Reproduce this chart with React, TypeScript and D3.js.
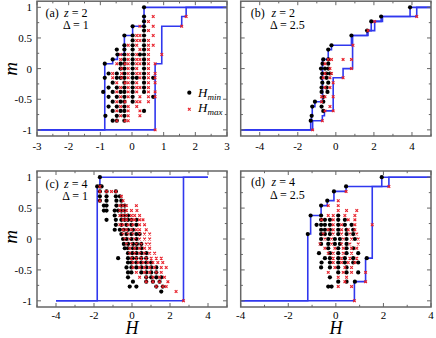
import React from "react";
import * as d3 from "d3";

type Row = [number, number[]];
type Pt = [number, number];

// ---------- Panel (a): z = 2, Delta = 1 ----------
const aMinRows: Row[] = [
  [1, [0.38]],
  [0.85, [0.38]],
  [0.77, [0.38]],
  [0.69, [0.02, 0.38]],
  [0.62, [0.38]],
  [0.54, [-0.24, 0.02, 0.38]],
  [0.46, [0.02, 0.38]],
  [0.38, [-0.24, 0.02, 0.38]],
  [0.31, [-0.48, -0.24, 0.02, 0.38]],
  [0.23, [-0.46, -0.24, 0.02, 0.25, 0.38]],
  [0.15, [-0.61, -0.24, 0.02, 0.38]],
  [0.08, [-0.86, -0.36, -0.24, 0.02, 0.38]],
  [0, [-0.36, -0.24, 0.02, 0.38]],
  [-0.08, [-0.74, -0.48, -0.24, 0.02, 0.38]],
  [-0.15, [-0.86, -0.48, -0.36, -0.24, 0.02, 0.15, 0.38, 0.67]],
  [-0.23, [-0.61, -0.24, 0.02, 0.38]],
  [-0.31, [-0.74, -0.48, -0.24, 0.02, 0.38]],
  [-0.38, [-0.91, -0.61, -0.36, -0.24, 0.02, 0.38]],
  [-0.46, [-0.74, -0.48, -0.24, 0.02, 0.67]],
  [-0.54, [-0.61, -0.36, -0.24, 0.02]],
  [-0.62, [-0.74, -0.48, -0.24]],
  [-0.69, [-0.61, -0.36, -0.24, 0.38]],
  [-0.77, [-0.84, -0.48, -0.24]],
  [-0.85, [-0.61, -0.48, -0.24]],
];
const aMaxRows: Row[] = [
  [0.85, [0.67, 1.71]],
  [0.77, [0.52]],
  [0.69, [0.25, 0.67, 1.57]],
  [0.62, [0.52]],
  [0.54, [0.15, 0.25, 0.67]],
  [0.46, [0.15, 0.25, 0.52]],
  [0.38, [-0.12, 0.15, 0.52, 0.67]],
  [0.31, [0.25, 0.52]],
  [0.23, [-0.36, -0.12, 0.15, 0.52, 0.94]],
  [0.15, [-0.36, -0.12, 0.15, 0.25, 0.52]],
  [0.08, [-0.48, -0.22, -0.12, 0.15, 0.25, 0.52, 0.73]],
  [0, [-0.33, -0.12, 0.15, 0.52]],
  [-0.08, [-0.61, -0.33, -0.12, 0.15, 0.25, 0.52, 0.73]],
  [-0.15, [-0.61, -0.33, -0.12, 0.25, 0.52, 0.73]],
  [-0.23, [-0.48, -0.22, -0.12, 0.15, 0.52, 0.73]],
  [-0.31, [-0.36, -0.12, 0.15, 0.25, 0.52]],
  [-0.38, [-0.48, -0.12, 0.15, 0.52, 0.73]],
  [-0.46, [-0.36, -0.12, 0.25, 0.52, 0.73]],
  [-0.54, [-0.48, -0.22, 0.15, 0.25, 0.52]],
  [-0.62, [-0.36, -0.12, 0.15]],
  [-0.69, [-0.48, -0.12, 0.25]],
  [-0.77, [-0.36, -0.12, 0.25]],
  [-0.85, [-0.48, -0.22, -0.12]],
  [-1, [0.73]],
];
const aUpper: Pt[] = [[3, 1], [0.38, 1], [0.38, 0.69], [0.02, 0.69], [0.02, 0.54], [-0.24, 0.54], [-0.24, 0.23], [-0.46, 0.23], [-0.46, 0.15], [-0.61, 0.15], [-0.61, 0.08], [-0.86, 0.08], [-0.86, -1], [-3, -1]];
const aLower: Pt[] = [[-3, -1], [0.73, -1], [0.73, 0.08], [0.94, 0.08], [0.94, 0.69], [1.57, 0.69], [1.57, 0.85], [1.71, 0.85], [1.71, 1], [3, 1]];

// ---------- Panel (b): z = 2, Delta = 2.5 ----------
const bMinRows: Row[] = [
  [1, [3.9]],
  [0.85, [2.38]],
  [0.77, [1.86]],
  [0.62, [1.64]],
  [0.54, [0.82]],
  [0.38, [-0.23]],
  [0.31, [-0.4]],
  [0.15, [-0.66, -0.4]],
  [0.08, [-0.7, -0.4]],
  [0, [-0.78, -0.57, -0.4]],
  [-0.08, [-0.71, -0.49, -0.31]],
  [-0.15, [-0.75, -0.49]],
  [-0.23, [-0.71, -0.4]],
  [-0.31, [-0.75, -0.49]],
  [-0.38, [-0.75, -0.44]],
  [-0.46, [-0.66]],
  [-0.54, [-1.1, -0.66]],
  [-0.62, [-1.24, -0.75]],
  [-0.69, [-0.66]],
  [-0.77, [-1.27]],
  [-0.85, [-1.32]],
];
const bMaxRows: Row[] = [
  [0.85, [4.25]],
  [0.77, [2.04]],
  [0.62, [1.69]],
  [0.38, [0.9]],
  [0.15, [-0.4, -0.23, 0.38, 0.82]],
  [0.08, [-0.57]],
  [0, [-0.31, 0.82]],
  [-0.08, [-0.57, -0.23]],
  [-0.15, [-0.66, -0.31, 0.38]],
  [-0.23, [-0.14]],
  [-0.31, [-0.57, -0.31]],
  [-0.46, [-0.75, -0.57, -0.14]],
  [-0.54, [-0.75]],
  [-0.62, [-0.31]],
  [-0.69, [-0.57, -0.14]],
  [-0.85, [-0.71]],
  [-1, [-1.22]],
];
const bUpper: Pt[] = [[5, 1], [3.9, 1], [3.9, 0.85], [2.38, 0.85], [2.38, 0.77], [1.86, 0.77], [1.86, 0.62], [1.64, 0.62], [1.64, 0.54], [0.82, 0.54], [0.82, 0.38], [-0.23, 0.38], [-0.23, 0.31], [-0.4, 0.31], [-0.4, 0.15], [-0.7, 0.15], [-0.7, -0.54], [-1.1, -0.54], [-1.1, -0.62], [-1.24, -0.62], [-1.24, -0.77], [-1.28, -0.77], [-1.28, -0.85], [-1.32, -0.85], [-1.32, -1], [-5, -1]];
const bLower: Pt[] = [[-5, -1], [-1.22, -1], [-1.22, -0.85], [-0.71, -0.85], [-0.71, -0.77], [-0.6, -0.77], [-0.6, -0.69], [-0.14, -0.69], [-0.14, -0.15], [0.38, -0.15], [0.38, 0], [0.88, 0], [0.88, 0.54], [1.69, 0.54], [1.69, 0.62], [2.04, 0.62], [2.04, 0.77], [2.45, 0.77], [2.45, 0.85], [4.25, 0.85], [4.25, 1], [5, 1]];

// ---------- Panel (c): z = 4, Delta = 1 ----------
const cMinRows: Row[] = [
  [1, [-1.69]],
  [0.85, [-1.83, -1.69, -1.6]],
  [0.77, [-1.69, -1.34, -0.85]],
  [0.69, [-1.69, -1.34, -0.85, -0.64]],
  [0.62, [-1.69, -1.34, -0.82, -0.56]],
  [0.54, [-1.48, -1.34, -0.82, -0.56, -0.38]],
  [0.46, [-1.48, -1.34, -0.91, -0.73, -0.56, -0.38]],
  [0.38, [-0.91, -0.56, -0.38, -0.21]],
  [0.31, [-1.34, -0.85, -0.56, -0.38, -0.21, -0.03, 0.23]],
  [0.23, [-0.85, -0.56, -0.29, -0.03, 0.23]],
  [0.15, [-0.91, -0.64, -0.43, -0.21, 0.05]],
  [0.08, [-0.56, -0.29, -0.03, 0.23, 0.4]],
  [0, [-0.47, -0.29, -0.03, 0.23]],
  [-0.08, [-0.43, -0.21, 0.05, 0.26, 0.49]],
  [-0.15, [-0.38, -0.21, 0.05, 0.23, 0.49]],
  [-0.23, [-0.21, 0.02, 0.23, 0.49, 0.75]],
  [-0.31, [-0.73, -0.21, 0.02, 0.23, 0.49, 0.75]],
  [-0.38, [-0.21, -0.03, 0.23, 0.49, 0.75, 1.01]],
  [-0.46, [-0.29, -0.03, 0.23, 0.49, 0.75, 1.01, 1.28]],
  [-0.54, [-0.21, -0.03, 0.49, 0.75, 1.01, 1.28]],
  [-0.62, [-0.21, 0.75, 1.01, 1.28, 1.54]],
  [-0.69, [0.05, 0.75, 1.1, 1.45]],
  [-0.77, [-0.12, 0.23, 1.28, 1.62]],
  [-0.85, [1.54]],
];
const cMaxRows: Row[] = [
  [0.85, [-1.69]],
  [0.77, [-1.69, -1.34, -1.08, -0.85]],
  [0.69, [-0.56]],
  [0.62, [-1.69, -0.47]],
  [0.54, [-0.64, -0.47, -0.29, 0.23]],
  [0.46, [-0.64, -0.47, -0.29, -0.03, 0.26]],
  [0.38, [-0.64, -0.47, -0.29, -0.03, 0.14, 0.4]],
  [0.31, [-0.47, -0.29, -0.03, 0.14, 0.4, 0.58]],
  [0.23, [-0.64, -0.47, -0.21, 0.05, 0.4, 0.66]],
  [0.15, [-0.47, -0.29, -0.03, 0.23, 0.4, 0.75]],
  [0.08, [-0.47, -0.21, 0.05, 0.4, 0.66, 0.93]],
  [0, [-0.38, -0.12, 0.14, 0.4, 0.66, 0.93]],
  [-0.08, [-0.29, -0.03, 0.23, 0.49, 0.75, 0.93]],
  [-0.15, [-0.12, 0.14, 0.4, 0.66, 0.93]],
  [-0.23, [-0.12, 0.14, 0.4, 0.66, 0.93, 1.19]],
  [-0.31, [-0.03, 0.23, 0.49, 0.75, 1.01, 1.28, 1.54]],
  [-0.38, [0.05, 0.32, 0.58, 0.84, 1.1, 1.36, 1.62]],
  [-0.46, [0.05, 0.4, 0.66, 0.93, 1.19, 1.54, 1.8]],
  [-0.54, [0.23, 0.66, 0.93, 1.28, 1.54]],
  [-0.62, [0.4, 0.75, 1.1, 1.45, 1.71]],
  [-0.69, [0.75, 1.1, 1.45, 1.89]],
  [-0.77, [1.28, 1.62, 1.8]],
  [-0.85, [2.32]],
  [-1, [2.71]],
];
const cUpper: Pt[] = [[4, 1], [-1.69, 1], [-1.69, 0.85], [-1.83, 0.85], [-1.83, -1], [-4, -1]];
const cLower: Pt[] = [[-4, -1], [2.71, -1], [2.71, 1], [4, 1]];

// ---------- Panel (d): z = 4, Delta = 2.5 ----------
const dMinRows: Row[] = [
  [1, [1.93]],
  [0.85, [0.43]],
  [0.77, [-0.08]],
  [0.62, [-0.36]],
  [0.54, [-0.62]],
  [0.38, [-1.06, -0.62, 0.1]],
  [0.31, [-0.62, -0.46, -0.25, 0.1, 0.38]],
  [0.23, [-0.81, -0.62, -0.46, -0.25, 0.1, 0.38, 0.66]],
  [0.15, [-0.62, -0.46, -0.25, 0.1, 0.45, 0.73]],
  [0.08, [-1.18, -0.62, -0.46, -0.25, 0.1, 0.45, 0.73]],
  [0, [-0.62, -0.32, -0.04, 0.17, 0.45, 0.8]],
  [-0.08, [-0.62, -0.32, -0.04, 0.17, 0.45]],
  [-0.15, [-0.32, 0.1, 0.45, 0.73]],
  [-0.23, [-0.71, -0.25, 0.1, 0.45, 0.94]],
  [-0.31, [-0.46, -0.25, 0.1, 0.38, 0.73, 1.3]],
  [-0.38, [-0.6, -0.25, 0.1, 0.38, 0.73, 0.94]],
  [-0.46, [-0.62, -0.25, 0.1, 0.45]],
  [-0.54, [0.1, 0.45, 0.94]],
  [-0.62, [-0.25]],
  [-0.69, [0.1, 0.45, 0.8]],
  [-0.77, [-0.32, -0.18]],
];
const dMaxRows: Row[] = [
  [0.85, [2.23]],
  [0.77, [0.43]],
  [0.62, [0.1]],
  [0.54, [-0.32, 0.1]],
  [0.46, [0.1, 0.45, 0.88]],
  [0.38, [-0.32, -0.11, 0.38, 0.8]],
  [0.31, [-0.6, -0.11, 0.52, 0.8]],
  [0.23, [-0.11, 0.24, 0.8, 1.53]],
  [0.15, [-0.32, -0.11, 0.24, 0.52, 0.8]],
  [0.08, [-0.53, -0.11, 0.24, 0.59, 0.88]],
  [0, [-0.46, -0.18, 0.31, 0.66, 0.94]],
  [-0.08, [-0.67, -0.18, 0.24, 0.59, 0.94]],
  [-0.15, [-0.46, -0.04, 0.31, 0.66, 0.88]],
  [-0.23, [-0.32, -0.11, 0.31, 0.66]],
  [-0.31, [-0.11, 0.24, 0.59, 0.88]],
  [-0.38, [-0.11, 0.24, 0.52, 0.8]],
  [-0.46, [-0.04, 0.38, 0.66]],
  [-0.54, [-0.32, 0.31, 0.66, 1.25]],
  [-0.62, [0.1, 0.45]],
  [-0.69, [0.38, 1.25]],
  [-0.77, [0.1, 0.66]],
  [-1, [0.78]],
];
const dUpper: Pt[] = [[4, 1], [1.93, 1], [1.93, 0.85], [0.43, 0.85], [0.43, 0.77], [-0.08, 0.77], [-0.08, 0.62], [-0.36, 0.62], [-0.36, 0.54], [-0.62, 0.54], [-0.62, 0.38], [-1.06, 0.38], [-1.06, 0.08], [-1.18, 0.08], [-1.18, -1], [-4, -1]];
const dLower: Pt[] = [[-4, -1], [0.78, -1], [0.78, -0.69], [1.25, -0.69], [1.25, -0.31], [1.53, -0.31], [1.53, 0.85], [2.23, 0.85], [2.23, 1], [4, 1]];

// ---------- Axis ticks ----------
const yMajor = [-1, -0.5, 0, 0.5, 1];
const yMinor = [-0.75, -0.25, 0.25, 0.75];
const yLabels = ["-1", "-0.5", "0", "0.5", "1"];
const aXMajor = [-3, -2, -1, 0, 1, 2, 3];
const aXMinor = [-2.5, -1.5, -0.5, 0.5, 1.5, 2.5];
const fiveXMajor = [-4, -2, 0, 2, 4];
const fiveXMinor = [-5, -3, -1, 1, 3, 5];
const fourXMinor = [-3, -1, 1, 3];

const BLUE = "#3038ee";
const RED = "#e8202a";
const FRAME = "#666";
const FONT = "Liberation Serif, Times New Roman, Times, serif";
const MS = 1.35;
const XMARK = `M${-MS},${-MS}L${MS},${MS}M${-MS},${MS}L${MS},${-MS}`;

const flat = (rows: Row[]): Pt[] => rows.flatMap(([m, hs]) => hs.map((h) => [h, m] as Pt));

interface PanelProps {
  x0: number; x1: number; yTop: number; yBot: number;
  xDomain: [number, number];
  xMajor: number[]; xMinor: number[];
  showY: boolean; labelBase: number;
  upper: Pt[]; lower: Pt[]; mins: Row[]; maxs: Row[];
  tag: string; z: string; delta: string;
  tagX: number; zX: number; dX: number; line1: number; line2: number;
}

function Panel(p: PanelProps) {
  const x = d3.scaleLinear().domain(p.xDomain).range([p.x0, p.x1]);
  const y = d3.scaleLinear().domain([-1.1, 1.1]).range([p.yBot, p.yTop]);
  const line = d3.line<Pt>().x((d) => x(d[0])).y((d) => y(d[1]));
  const maj = 4, mnr = 2.2;
  return (
    <g>
      <path d={line(p.upper) || ""} fill="none" stroke={BLUE} strokeWidth={1.6} />
      <path d={line(p.lower) || ""} fill="none" stroke={BLUE} strokeWidth={1.6} />
      {flat(p.mins).map(([h, m], i) => (
        <circle key={"n" + i} cx={x(h)} cy={y(m)} r={2.1} fill="#000" />
      ))}
      {flat(p.maxs).map(([h, m], i) => (
        <path key={"x" + i} transform={`translate(${x(h)},${y(m)})`} d={XMARK} stroke={RED} strokeWidth={1.1} fill="none" />
      ))}
      <rect x={p.x0} y={p.yTop} width={p.x1 - p.x0} height={p.yBot - p.yTop} fill="none" stroke={FRAME} strokeWidth={1.5} />
      {p.xMajor.map((v) => (
        <g key={"xm" + v}>
          <line x1={x(v)} x2={x(v)} y1={p.yBot} y2={p.yBot - maj} stroke={FRAME} strokeWidth={1} />
          <line x1={x(v)} x2={x(v)} y1={p.yTop} y2={p.yTop + maj} stroke={FRAME} strokeWidth={1} />
          <text x={x(v)} y={p.labelBase} textAnchor="middle" fontSize={11}>{String(v)}</text>
        </g>
      ))}
      {p.xMinor.map((v) => (
        <g key={"xn" + v}>
          <line x1={x(v)} x2={x(v)} y1={p.yBot} y2={p.yBot - mnr} stroke={FRAME} strokeWidth={1} />
          <line x1={x(v)} x2={x(v)} y1={p.yTop} y2={p.yTop + mnr} stroke={FRAME} strokeWidth={1} />
        </g>
      ))}
      {yMajor.map((v, i) => (
        <g key={"ym" + v}>
          <line x1={p.x0} x2={p.x0 + maj} y1={y(v)} y2={y(v)} stroke={FRAME} strokeWidth={1} />
          <line x1={p.x1} x2={p.x1 - maj} y1={y(v)} y2={y(v)} stroke={FRAME} strokeWidth={1} />
          {p.showY && (
            <text x={p.x0 - 5} y={y(v) + 4} textAnchor="end" fontSize={11}>{yLabels[i]}</text>
          )}
        </g>
      ))}
      {yMinor.map((v) => (
        <g key={"yn" + v}>
          <line x1={p.x0} x2={p.x0 + mnr} y1={y(v)} y2={y(v)} stroke={FRAME} strokeWidth={1} />
          <line x1={p.x1} x2={p.x1 - mnr} y1={y(v)} y2={y(v)} stroke={FRAME} strokeWidth={1} />
        </g>
      ))}
      <text x={p.tagX} y={p.line1} fontSize={12}>{p.tag}</text>
      <text x={p.zX} y={p.line1} fontSize={12}>
        <tspan fontStyle="italic">z</tspan>{" = " + p.z}
      </text>
      <text x={p.dX} y={p.line2} fontSize={12}>{"Δ = " + p.delta}</text>
    </g>
  );
}

export default function App() {
  return (
    <svg width={436} height={338} fontFamily={FONT} style={{ position: "absolute", left: 0, top: 0, background: "#fff", fontFamily: FONT }}>
      <Panel x0={37} x1={227} yTop={1.2} yBot={136} xDomain={[-3, 3]} xMajor={aXMajor} xMinor={aXMinor}
        showY={true} labelBase={150} upper={aUpper} lower={aLower} mins={aMinRows} maxs={aMaxRows}
        tag="(a)" z="2" delta="1" tagX={45.5} zX={64} dX={63} line1={17} line2={29} />
      <Panel x0={240.7} x1={431} yTop={1.2} yBot={136} xDomain={[-5, 5]} xMajor={fiveXMajor} xMinor={fiveXMinor}
        showY={false} labelBase={150} upper={bUpper} lower={bLower} mins={bMinRows} maxs={bMaxRows}
        tag="(b)" z="2" delta="2.5" tagX={250.7} zX={271.5} dX={270} line1={17} line2={29} />
      <Panel x0={37} x1={227} yTop={171} yBot={307} xDomain={[-5, 5]} xMajor={fiveXMajor} xMinor={fiveXMinor}
        showY={true} labelBase={318.5} upper={cUpper} lower={cLower} mins={cMinRows} maxs={cMaxRows}
        tag="(c)" z="4" delta="1" tagX={45.5} zX={64} dX={62.3} line1={187.5} line2={200} />
      <Panel x0={240.7} x1={431} yTop={171} yBot={307} xDomain={[-4, 4]} xMajor={fiveXMajor} xMinor={fourXMinor}
        showY={false} labelBase={318.5} upper={dUpper} lower={dLower} mins={dMinRows} maxs={dMaxRows}
        tag="(d)" z="4" delta="2.5" tagX={251} zX={271.5} dX={270} line1={186} line2={199} />
      {/* legend */}
      <circle cx={189.3} cy={92.7} r={2.1} fill="#000" />
      <text x={198} y={96.5} fontSize={13} fontStyle="italic">
        H<tspan fontSize={9} dy={3}>min</tspan>
      </text>
      <path transform="translate(189.3,109.3)" d={XMARK} stroke={RED} strokeWidth={1.1} fill="none" />
      <text x={198} y={111.7} fontSize={13} fontStyle="italic">
        H<tspan fontSize={9} dy={3}>max</tspan>
      </text>
      {/* axis labels */}
      <text transform="translate(17,69) rotate(-90)" textAnchor="middle" fontSize={19} fontStyle="italic">m</text>
      <text transform="translate(17,237) rotate(-90)" textAnchor="middle" fontSize={19} fontStyle="italic">m</text>
      <text x={132} y={334} textAnchor="middle" fontSize={18} fontStyle="italic">H</text>
      <text x={336} y={334} textAnchor="middle" fontSize={18} fontStyle="italic">H</text>
    </svg>
  );
}
